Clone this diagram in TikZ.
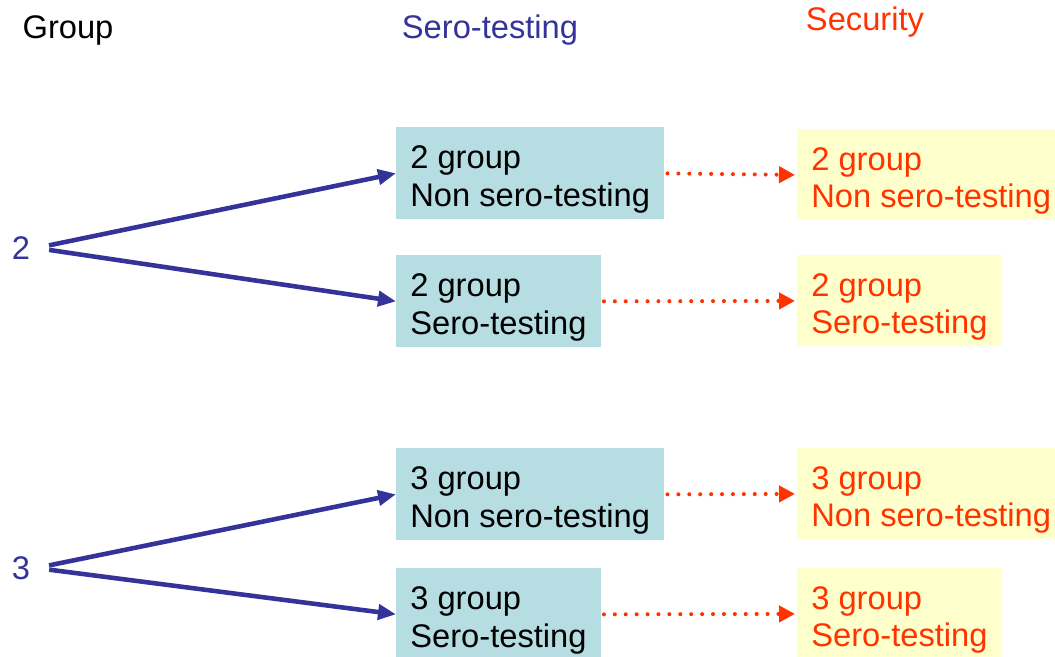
\documentclass[tikz,border=0pt]{standalone}
\usepackage{fontspec}
\setmainfont{Liberation Sans}
\usepackage{tikz}
\usetikzlibrary{positioning}
\usetikzlibrary{arrows.meta}
\definecolor{seroblue}{RGB}{51,51,153}
\definecolor{secred}{RGB}{255,51,0}
\definecolor{boxteal}{RGB}{182,221,226}
\definecolor{boxyellow}{RGB}{255,255,204}
\tikzset {
  x=0.02cm, y=-0.02cm,
  every node/.style={font=\fontsize{18.6pt}{21.3pt}\selectfont},
  % column headings
  head/.style={anchor=center},
  % group numbers on the left
  grp/.style={text=seroblue, anchor=center},
  % sero-testing boxes
  sero/.style={fill=boxteal, align=left, anchor=north west,
    minimum height=1.84cm, inner xsep=0.28cm,
    text height=41.3pt, text depth=3.9pt},
  % security boxes
  secu/.style={sero, fill=boxyellow, text=secred, minimum height=1.82cm},
  % connectors
  split/.style={seroblue, line width=2.6pt, shorten <=0.26cm,
    -{Triangle[length=0.36cm,width=0.3cm]}},
  follow/.style={secred, line width=2.3pt, line cap=round,
    dash pattern=on 0.01pt off 6.2pt, shorten <=0.06cm, shorten >=0.04cm,
    -{Triangle[length=0.32cm,width=0.32cm]}},
}
\begin{document}
\begin{tikzpicture}
        \useasboundingbox (0,0) rectangle (1055,656);

        \node[head] (hgroup) at (68,30) {Group};
        \node[head, text=seroblue] (hsero) at (490,30) {Sero-testing};
        \node[head, text=secred] (hsecu) at (865,22) {Security};

        \node[grp] (g2) at (21,248) {2};
        \node[grp] (g3) at (21,568) {3};

        \node[sero] (s1) at (396,127) {2 group\\Non sero-testing};
        \node[sero] (s2) at (396,255) {2 group\\Sero-testing};
        \node[sero] (s3) at (396,448) {3 group\\Non sero-testing};
        \node[sero] (s4) at (396,568) {3 group\\Sero-testing};

        \node[secu] (y1) at (797,129) {2 group\\Non sero-testing};
        \node[secu] (y2) at (797,255) {2 group\\Sero-testing};
        \node[secu] (y3) at (797,448) {3 group\\Non sero-testing};
        \node[secu] (y4) at (797,568) {3 group\\Sero-testing};

        \draw [split] (g2.east) -- (s1.west);
        \draw [split] (g2.east) -- (s2.west);
        \draw [split] (g3.east) -- (s3.west);
        \draw [split] (g3.east) -- (s4.west);

        \draw [follow] (s1.east) -- (y1.west);
        \draw [follow] (s2.east) -- (y2.west);
        \draw [follow] (s3.east) -- (y3.west);
        \draw [follow] (s4.east) -- (y4.west);
      \end{tikzpicture}
\end{document}
